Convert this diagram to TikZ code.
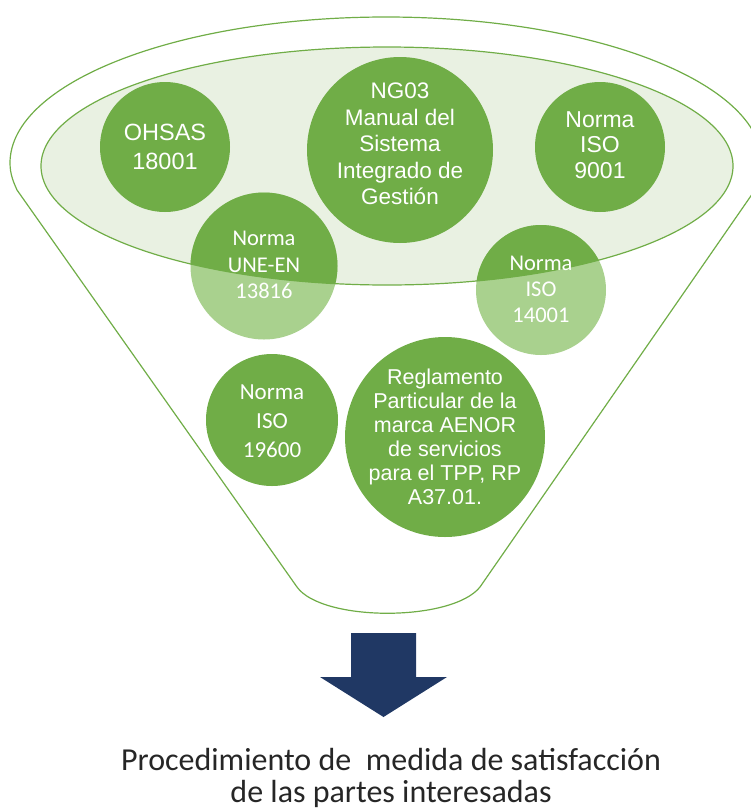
\documentclass[tikz,border=0pt]{standalone}
\usepackage{fontspec}
\setmainfont{Liberation Sans}
\newfontfamily\calib{Carlito}
\definecolor{gdark}{RGB}{112,173,71}
\definecolor{glight}{RGB}{169,209,142}
\definecolor{gpale}{RGB}{233,241,226}
\definecolor{navy}{RGB}{32,56,100}
\begin{document}
\begin{tikzpicture}[x=1pt,y=-1pt,
  disc/.style={circle,inner sep=0pt,minimum size=#1,fill=gdark},
  lbl/.style={text=white,align=center,inner sep=0pt},
  rim/.style={draw=gdark,line width=1.2pt}]
\useasboundingbox (0,0) rectangle (751,812);
\clip (0,0) rectangle (751,812);
% funnel outline
\draw[rim] (10,163) arc[start angle=180,end angle=360,x radius=376,y radius=146]
  .. controls (762,175) and (758,183) .. (755,190) -- (480,587)
  .. controls (452,622) and (322,622) .. (297,587) -- (17,190)
  .. controls (14,183) and (10,175) .. (10,163) -- cycle;
% inner ellipse
\fill[gpale] (387,166) ellipse [x radius=346,y radius=119];
% discs
\node[disc=130pt] (ohsas) at (165,147) {};
\node[disc=186pt] (ng) at (400,150) {};
\node[disc=130pt] (iso9) at (600,147) {};
\node[disc=147pt,fill=glight] (une) at (264,266) {};
\node[disc=130pt,fill=glight] (iso14) at (541,290) {};
\node[disc=132pt] (iso19) at (272,420) {};
\node[disc=200pt] (regl) at (445,437) {};
\begin{scope}
  \clip (387,166) ellipse [x radius=346,y radius=119];
  \fill[gdark] (une.center) circle (73.5);
  \fill[gdark] (iso14.center) circle (65);
\end{scope}
\draw[rim] (387,166) ellipse [x radius=346,y radius=119];
% labels
\node[lbl,font=\fontsize{23.5}{29}\selectfont] (ohsasT) at (ohsas) {OHSAS\\18001};
\node[lbl,font=\fontsize{22.5}{26.5}\selectfont] (ngT) at (400,144) {NG03\\Manual del\\Sistema\\Integrado de\\Gestión};
\node[lbl,font=\fontsize{23}{25.5}\selectfont] (iso9T) at (600,145) {Norma\\ISO\\9001};
\node[lbl,font=\calib\fontsize{22.5}{26.5}\selectfont] (uneT) at (264,265) {Norma\\UNE-EN\\13816};
\node[lbl,font=\calib\fontsize{22.5}{26}\selectfont] (iso14T) at (541,289) {Norma\\ISO\\14001};
\node[lbl,font=\calib\fontsize{23}{29}\selectfont] (iso19T) at (272,421) {Norma\\ISO\\19600};
\node[lbl,font=\fontsize{21.5}{24}\selectfont] (reglT) at (445,437) {Reglamento\\Particular de la\\marca AENOR\\de servicios\\para el TPP, RP\\A37.01.};
% arrow
\fill[navy] (351,633) -- (416,633) -- (416,677) -- (447,677) -- (383.5,717) -- (320,677) -- (351,677) -- cycle;
% result text
\node[align=center,inner sep=0pt,anchor=north,text=black!85,font=\calib\fontsize{32}{32.5}\selectfont] (res) at (391,748) {Procedimiento de\ \ medida de satisfacción\\de las partes interesadas};
\end{tikzpicture}
\end{document}
